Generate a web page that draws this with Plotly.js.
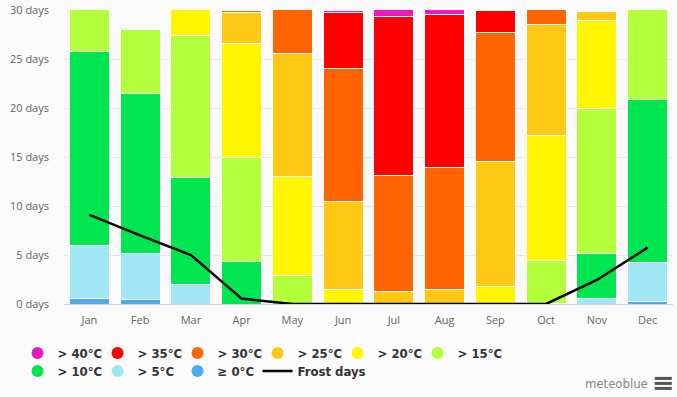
<!DOCTYPE html>
<html><head><meta charset="utf-8">
<script src="https://cdn.plot.ly/plotly-3.0.1.min.js"></script>
<style>html,body{margin:0;padding:0;background:#fafafa;}#chart{width:677px;height:397px;}</style>
</head><body><div id="chart"></div>
<script>
const months = ["Jan","Feb","Mar","Apr","May","Jun","Jul","Aug","Sep","Oct","Nov","Dec"];
const d0  = [0.6, 0.45, 0, 0, 0, 0, 0, 0, 0, 0, 0, 0.25];
const d5  = [5.4, 4.75, 1.95, 0, 0, 0, 0, 0, 0, 0, 0.6, 3.95];
const d10 = [19.8, 16.3, 10.95, 4.3, 0, 0, 0, 0, 0, 0.1, 4.6, 16.7];
const d15 = [5.2, 6.5, 14.5, 10.7, 2.9, 0, 0, 0, 0, 4.35, 14.8, 10.1];
const d20 = [0, 0, 3.6, 11.6, 10.1, 1.5, 0, 0, 1.8, 12.7, 8.9, 0];
const d25 = [0, 0, 0, 3.1, 12.6, 9.0, 1.3, 1.5, 12.7, 11.4, 0.9, 0];
const d30 = [0, 0, 0, 0.3, 5.4, 13.5, 11.8, 12.45, 13.2, 2.5, 0, 0];
const d35 = [0, 0, 0, 0, 0, 5.7, 16.2, 15.6, 2.2, 0, 0, 0];
const d40 = [0, 0, 0, 0, 0, 0.3, 1.7, 1.45, 0, 0, 0, 0];
const frost = [9.1, 7.0, 5.0, 0.55, 0, 0, 0, 0, 0, 0, 2.45, 5.75];

const seriesNames = ["≥ 0°C","> 5°C","> 10°C","> 15°C","> 20°C","> 25°C","> 30°C","> 35°C","> 40°C"];
const seriesData = [d0,d5,d10,d15,d20,d25,d30,d35,d40];
const colors = ["#4aacec","#a1e6f5","#00e650","#b4ff3c","#fff500","#ffc814","#ff6400","#ff0000","#e619c3"];

const traces = [];
seriesData.forEach((vals,i)=>{
  traces.push({type:"bar", x:months, y:vals, name:seriesNames[i], showlegend:false,
    marker:{color:colors[i], line:{color:"#ffffff", width:1}}, hoverinfo:"y+name"});
});
traces.push({type:"scatter", mode:"lines", x:months, y:frost, name:"Frost days", showlegend:false,
  line:{color:"#000000", width:2.5}});
const legendOrder = [8,7,6,5,4,3,2,1,0];
legendOrder.forEach((i,k)=>{
  traces.push({type:"scatter", mode:"markers", x:[null], y:[null], name:seriesNames[i],
    legend: k < 6 ? "legend" : "legend2",
    marker:{color:colors[i], size:12, symbol:"circle"}, showlegend:true, hoverinfo:"skip"});
  if (k === 5) {
    traces.push({type:"scatter", mode:"markers", x:[null], y:[null], name:" ", legend:"legend",
      marker:{color:"rgba(0,0,0,0)", size:1}, showlegend:true, hoverinfo:"skip"});
  }
});
traces.push({type:"scatter", mode:"lines", x:[null], y:[null], name:"Frost days", legend:"legend2",
  line:{color:"#000000", width:2.5}, showlegend:true, hoverinfo:"skip"});
traces.push({type:"scatter", mode:"markers", x:[null], y:[null], name:" ", legend:"legend2",
  marker:{color:"rgba(0,0,0,0)", size:1}, showlegend:true, hoverinfo:"skip"});

const legFont = {family:"'Liberation Sans Narrow', 'DejaVu Sans Condensed', sans-serif", size:13, color:"#333333", weight:"bold"};
const legBase = {orientation:"h", x:-0.0763, xanchor:"left", yanchor:"top",
    entrywidth:35, entrywidthmode:"pixels", traceorder:"normal",
    font:legFont, bgcolor:"rgba(0,0,0,0)", itemwidth:30, tracegroupgap:0};

const layout = {
  width:677, height:397,
  paper_bgcolor:"#fafafa", plot_bgcolor:"#fafafa",
  margin:{l:64, r:4, t:10, b:93, autoexpand:false},
  barmode:"stack", bargap:0.21,
  font:{family:"'Open Sans', 'DejaVu Sans', sans-serif", color:"#666666", size:11},
  xaxis:{type:"category", showgrid:false, showline:true, linecolor:"#ccd6eb", linewidth:1,
    ticks:"", ticklabelstandoff:6, tickfont:{size:11, color:"#666666"}, fixedrange:true},
  yaxis:{range:[0,30], tickvals:[0,5,10,15,20,25,30],
    ticktext:["0 days","5 days","10 days","15 days","20 days","25 days","30 days"],
    gridcolor:"#e6e6e6", gridwidth:1, zeroline:false, showline:false, ticks:"",
    ticklabelstandoff:14, tickfont:{size:11, color:"#666666"}, fixedrange:true},
  showlegend:true,
  legend:Object.assign({}, legBase, {y:-0.1156}),
  legend2:Object.assign({}, legBase, {y:-0.177}),
  annotations:[{text:"meteoblue", xref:"paper", yref:"paper", x:0.962, y:-0.269, xanchor:"right", yanchor:"middle",
    showarrow:false, font:{family:"'Liberation Sans Narrow', 'DejaVu Sans Condensed', sans-serif", size:13, color:"#888888"}}],
  shapes:[0,1,2].map(k=>({type:"rect", xref:"paper", yref:"paper", x0:0.970, x1:0.998,
    y0:-0.248 - k*0.017, y1:-0.248 - k*0.017 - 0.0102, fillcolor:"#555555", line:{width:0}}))
};
Plotly.newPlot("chart", traces, layout, {displayModeBar:false, staticPlot:true});
</script></body></html>
